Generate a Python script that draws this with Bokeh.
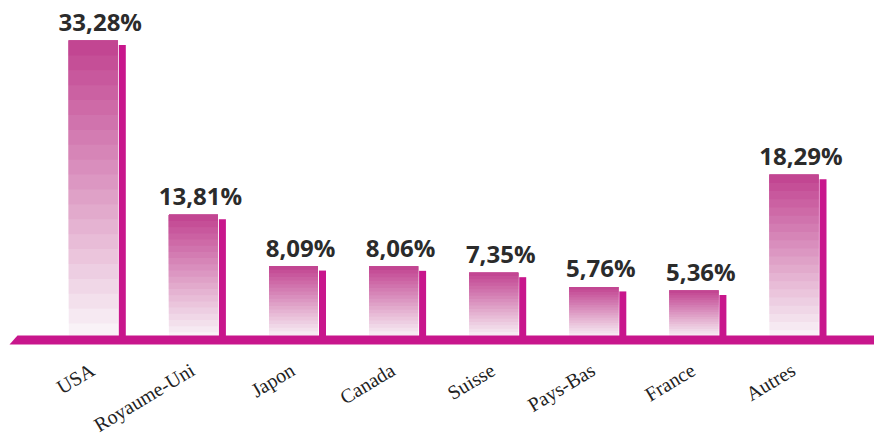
import numpy as np
from bokeh.plotting import figure
from bokeh.models import Range1d, ColumnDataSource
from bokeh.core.properties import value
from bokeh.embed import file_html
from bokeh.resources import INLINE

categories = ["USA", "Royaume-Uni", "Japon", "Canada", "Suisse", "Pays-Bas", "France", "Autres"]
shares = [33.28, 13.81, 8.09, 8.06, 7.35, 5.76, 5.36, 18.29]
value_labels = ["33,28%", "13,81%", "8,09%", "8,06%", "7,35%", "5,76%", "5,36%", "18,29%"]

W, H = 874, 443
PX_X = 100.1   # pixels per category step
PX_Y = 8.954   # pixels per percent
x_start = -68.3 / PX_X
x_end = x_start + W / PX_X
y_top = 338 / PX_Y
y_bot = y_top - H / PX_Y

def dx(px):
    return px / PX_X

def dy(px):
    return px / PX_Y

p = figure(width=W, height=H, output_backend="svg", toolbar_location=None,
           x_range=Range1d(x_start, x_end), y_range=Range1d(y_bot, y_top),
           x_axis_location=None, y_axis_location=None,
           min_border=0, min_border_left=0, min_border_right=0,
           min_border_top=0, min_border_bottom=0)
p.grid.visible = False
p.outline_line_color = None
p.background_fill_color = "white"
p.border_fill_color = "white"

BAR_W = dx(49)
GAP = dx(1)
STRIP_W = dx(7)
N = 20
c_top = np.array([194, 70, 146])
c_bot = np.array([249, 242, 247])

# gradient stripes, drawn bottom-to-top, each covering up to the bar top
L, R, B, T, C = [], [], [], [], []
for i, v in enumerate(shares):
    for k in range(N):
        f = k / (N - 1)
        col = c_bot + (c_top - c_bot) * f
        L.append(i)
        R.append(i + BAR_W)
        B.append(v * k / N)
        T.append(v)
        C.append("#%02x%02x%02x" % tuple(int(round(c)) for c in col))
p.quad(left=L, right=R, bottom=B, top=T, fill_color=C, line_color=None)

# side strips
idx = np.arange(len(shares))
sh = np.array(shares)
p.quad(left=idx + BAR_W + GAP, right=idx + BAR_W + GAP + STRIP_W,
       bottom=0, top=sh - dy(4.5), fill_color="#c8168c", line_color=None)

# base band (parallelogram)
p.patch(x=[x_start + dx(9), x_start + dx(17), x_end + 1, x_end + 1],
        y=[-dy(6), dy(3), dy(3), -dy(6)],
        fill_color="#c8168c", line_color=None)

centers = idx + (BAR_W + GAP + STRIP_W) / 2
src = ColumnDataSource(dict(x=centers + dx(3), y=sh + dy(2.5), t=value_labels))
p.text(x="x", y="y", text="t", source=src, text_align="center",
       text_baseline="bottom", text_font=value("Open Sans"),
       text_font_style="bold", text_font_size="24px", text_color="#2b2b2b")

src2 = ColumnDataSource(dict(x=centers + dx(1), y=np.full(len(shares), -dy(39)), t=categories))
p.text(x="x", y="y", text="t", source=src2, text_align="right",
       text_baseline="bottom", angle=31, angle_units="deg",
       text_font=value("Liberation Serif"), text_font_size="20px",
       text_color="#222222")

open("out.html", "w").write(file_html(p, INLINE))
